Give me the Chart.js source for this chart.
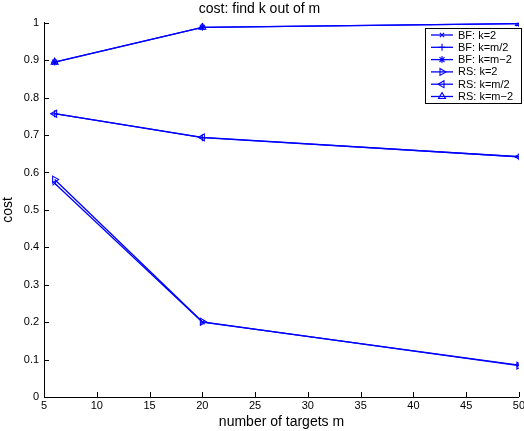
<!DOCTYPE html>
<html>
<head>
<meta charset="utf-8">
<script src="https://cdn.jsdelivr.net/npm/chart.js@4/dist/chart.umd.min.js"></script>
<style>
  html, body { margin: 0; padding: 0; background: #fff; }
  #wrap { width: 524px; height: 431px; }
</style>
</head>
<body>
<div id="wrap"><canvas id="myChart" width="524" height="431"></canvas></div>
<script>
const targets = [6, 20, 50]

const bfK2 = [0.571, 0.200, 0.085]
const bfKHalf = [0.757, 0.693, 0.642]
const bfKm2 = [0.895, 0.988, 0.998]
const rsK2 = [0.581, 0.201, 0.084]
const rsKHalf = [0.757, 0.694, 0.642]
const rsKm2 = [0.895, 0.988, 0.998]

const seriesLabels = ['BF: k=2', 'BF: k=m/2', 'BF: k=m\u22122', 'RS: k=2', 'RS: k=m/2', 'RS: k=m\u22122']
const xTicks = [5, 10, 15, 20, 25, 30, 35, 40, 45, 50]
const yTicks = [0, 0.1, 0.2, 0.3, 0.4, 0.5, 0.6, 0.7, 0.8, 0.9, 1]

const blue = 'rgb(0, 0, 255)'
const font = "'Liberation Sans', Arial, sans-serif"

var toPoints = (vals) => targets.map((x, i) => ({x: x, y: vals[i]}))

var mkSet = (label, vals, style, rot, rad) => ({
    label: label,
    data: toPoints(vals),
    borderColor: blue,
    backgroundColor: 'rgba(0,0,0,0)',
    borderWidth: 1.3,
    pointStyle: style,
    rotation: rot,
    pointRadius: rad,
    pointBorderColor: blue,
    pointBackgroundColor: 'rgba(0,0,0,0)',
    pointBorderWidth: 1.1,
    tension: 0,
})

const datasets = [
    mkSet(seriesLabels[0], bfK2, 'crossRot', 0, 3),
    mkSet(seriesLabels[1], bfKHalf, 'cross', 0, 3.5),
    mkSet(seriesLabels[2], bfKm2, 'star', 0, 3.5),
    mkSet(seriesLabels[3], rsK2, 'triangle', 90, 4),
    mkSet(seriesLabels[4], rsKHalf, 'triangle', -90, 4),
    mkSet(seriesLabels[5], rsKm2, 'triangle', 0, 4),
]

// inward ticks like matlab
const innerTicks = {
    id: 'innerTicks',
    afterDraw(chart) {
        const ctx = chart.ctx
        const xs = chart.scales.x
        const ys = chart.scales.y
        const a = chart.chartArea
        ctx.save()
        ctx.strokeStyle = '#000'
        ctx.lineWidth = 1
        ctx.beginPath()
        xTicks.forEach(v => {
            const px = Math.round(xs.getPixelForValue(v)) + 0.5
            ctx.moveTo(px, a.bottom)
            ctx.lineTo(px, a.bottom - 5)
        })
        yTicks.forEach(v => {
            const py = Math.round(ys.getPixelForValue(v)) + 0.5
            ctx.moveTo(a.left, py)
            ctx.lineTo(a.left + 5, py)
        })
        ctx.stroke()
        ctx.restore()
    }
}

// legend box inside plot, top right
const boxLegend = {
    id: 'boxLegend',
    afterDraw(chart) {
        const ctx = chart.ctx
        const bx = 425, by = 28, bw = 96, bh = 75
        ctx.save()
        ctx.fillStyle = '#fff'
        ctx.fillRect(bx, by, bw, bh)
        ctx.strokeStyle = '#000'
        ctx.lineWidth = 1
        ctx.strokeRect(bx + 0.5, by + 0.5, bw, bh)
        chart.data.datasets.forEach((ds, i) => {
            const y = by + 7 + i * 12.3
            ctx.strokeStyle = blue
            ctx.lineWidth = 1.3
            ctx.beginPath()
            ctx.moveTo(bx + 6, y)
            ctx.lineTo(bx + 28, y)
            ctx.stroke()
            ctx.fillStyle = 'rgba(0,0,0,0)'
            ctx.lineWidth = 1.1
            Chart.helpers.drawPoint(ctx, {
                pointStyle: ds.pointStyle,
                rotation: ds.rotation,
                radius: ds.pointRadius,
                borderWidth: 1.1,
            }, bx + 17, y)
            ctx.fillStyle = '#000'
            ctx.font = '11px ' + font
            ctx.textBaseline = 'middle'
            ctx.fillText(ds.label, bx + 33, y + 0.5)
        })
        ctx.restore()
    }
}

const config = {
    type: 'line',
    data: { datasets: datasets },
    options: {
        responsive: false,
        animation: false,
        layout: { padding: { left: 0, right: 5, top: 0, bottom: 0 } },
        plugins: {
            legend: { display: false },
            tooltip: { enabled: false },
            title: {
                display: true,
                text: 'cost: find k out of m',
                color: '#000',
                font: { family: font, size: 14, weight: 'normal' },
                padding: { top: 1, bottom: 5 },
            },
        },
        scales: {
            x: {
                type: 'linear',
                min: 5,
                max: 50,
                afterFit: (scale) => { scale.paddingRight = 0 },
                grid: { display: false, drawTicks: false },
                border: { display: true, color: '#000', width: 1 },
                ticks: {
                    stepSize: 5,
                    color: '#000',
                    padding: 2,
                    maxRotation: 0,
                    font: { family: font, size: 11 },
                },
                title: {
                    display: true,
                    text: 'number of targets m',
                    color: '#000',
                    padding: { top: 0, bottom: 0 },
                    font: { family: font, size: 14 },
                },
            },
            y: {
                min: 0,
                max: 1,
                grid: { display: false, drawTicks: false },
                border: { display: true, color: '#000', width: 1 },
                ticks: {
                    stepSize: 0.1,
                    color: '#000',
                    padding: 5,
                    font: { family: font, size: 11 },
                    callback: (v) => String(Math.round(v * 10) / 10),
                },
                title: {
                    display: true,
                    text: 'cost',
                    color: '#000',
                    padding: { top: 0, bottom: 2 },
                    font: { family: font, size: 14 },
                },
            },
        },
    },
    plugins: [innerTicks, boxLegend],
}

const myChart = new Chart(document.getElementById('myChart'), config)
</script>
</body>
</html>
